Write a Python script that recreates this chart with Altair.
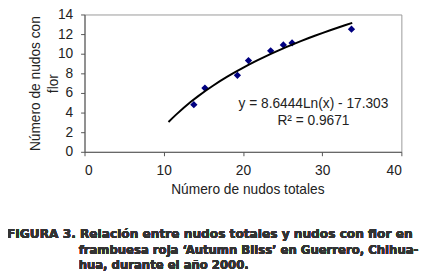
import altair as alt
import pandas as pd

# Data
nudos_totales = [13.8, 15.2, 19.3, 20.7, 23.5, 25.1, 26.2, 33.7]
nudos_con_flor = [4.8, 6.5, 7.8, 9.3, 10.3, 10.9, 11.1, 12.5]
trend_extent = [10.6, 33.8]
x_ticks = [0, 10, 20, 30, 40]
y_ticks = [0, 2, 4, 6, 8, 10, 12, 14]
eq_text = ["y = 8.6444Ln(x)  - 17.303", "R² = 0.9671"]
eq_x = [28.9, 28.9]
eq_y = [4.85, 3.15]
caption = [
    "FIGURA 3. Relación entre nudos totales y nudos con flor en",
    "frambuesa roja ‘Autumn Bliss’ en Guerrero, Chihua-",
    "hua, durante el año 2000.",
]

pts = pd.DataFrame({"x": nudos_totales, "y": nudos_con_flor})
eq = pd.DataFrame({"x": eq_x, "y": eq_y, "t": eq_text})

FONT = "Liberation Sans"
CAPFONT = "DejaVu Sans"
xs = alt.Scale(domain=[0, 40], nice=False)
ys = alt.Scale(domain=[0, 14], nice=False)

x_axis = alt.Axis(values=x_ticks, title="Número de nudos totales",
                  titleX=166, titleY=39, titleBaseline="middle",
                  labelPadding=8, tickSize=4, labelOverlap=False)
y_axis = alt.Axis(values=y_ticks, title=["Número de nudos con", "flor"],
                  titleX=-50, titleY=70, titleBaseline="middle", titleLineHeight=18,
                  labelPadding=8, tickSize=4, labelOverlap=False)

X = alt.X("x:Q", scale=xs, axis=x_axis)
Y = alt.Y("y:Q", scale=ys, axis=y_axis)

base = alt.Chart(pts)

points = base.mark_point(shape="diamond", filled=True, size=55, color="#000080", opacity=1).encode(x=X, y=Y)

trend = base.transform_regression("x", "y", method="log", extent=trend_extent).mark_line(
    color="black", strokeWidth=2
).encode(x=X, y=Y)

eq_marks = alt.Chart(eq).mark_text(font=FONT, fontSize=14, color="#222", align="center", baseline="middle").encode(
    x=X, y=Y, text="t:N"
)

def cap_line(txt, x, y, size):
    return alt.Chart(pts).mark_text(font=CAPFONT, fontSize=size, fontWeight="bold", color="#333",
                                    align="left", baseline="middle", text=txt).encode(
        x=alt.value(x), y=alt.value(y))

cap1 = cap_line(caption[0], -79, 224, 12.4)
cap2 = cap_line(caption[1], -6, 240, 11.9)
cap3 = cap_line(caption[2], -6, 255, 11.9)

chart = alt.layer(points, trend, eq_marks, cap1, cap2, cap3).properties(
    width=323, height=140,
    autosize=alt.AutoSizeParams(type="none"),
    padding={"left": 78, "top": 4, "right": 20, "bottom": 125},
).configure_view(stroke="#999999", strokeWidth=1).configure_axis(
    grid=False, domainColor="#555555", tickColor="#555555",
    labelFont=FONT, labelFontSize=14, labelColor="#222",
    titleFont=FONT, titleFontSize=14, titleColor="#222", titleFontWeight="normal",
)

chart.save("out.html", embed_options={"renderer": "svg", "actions": False})
